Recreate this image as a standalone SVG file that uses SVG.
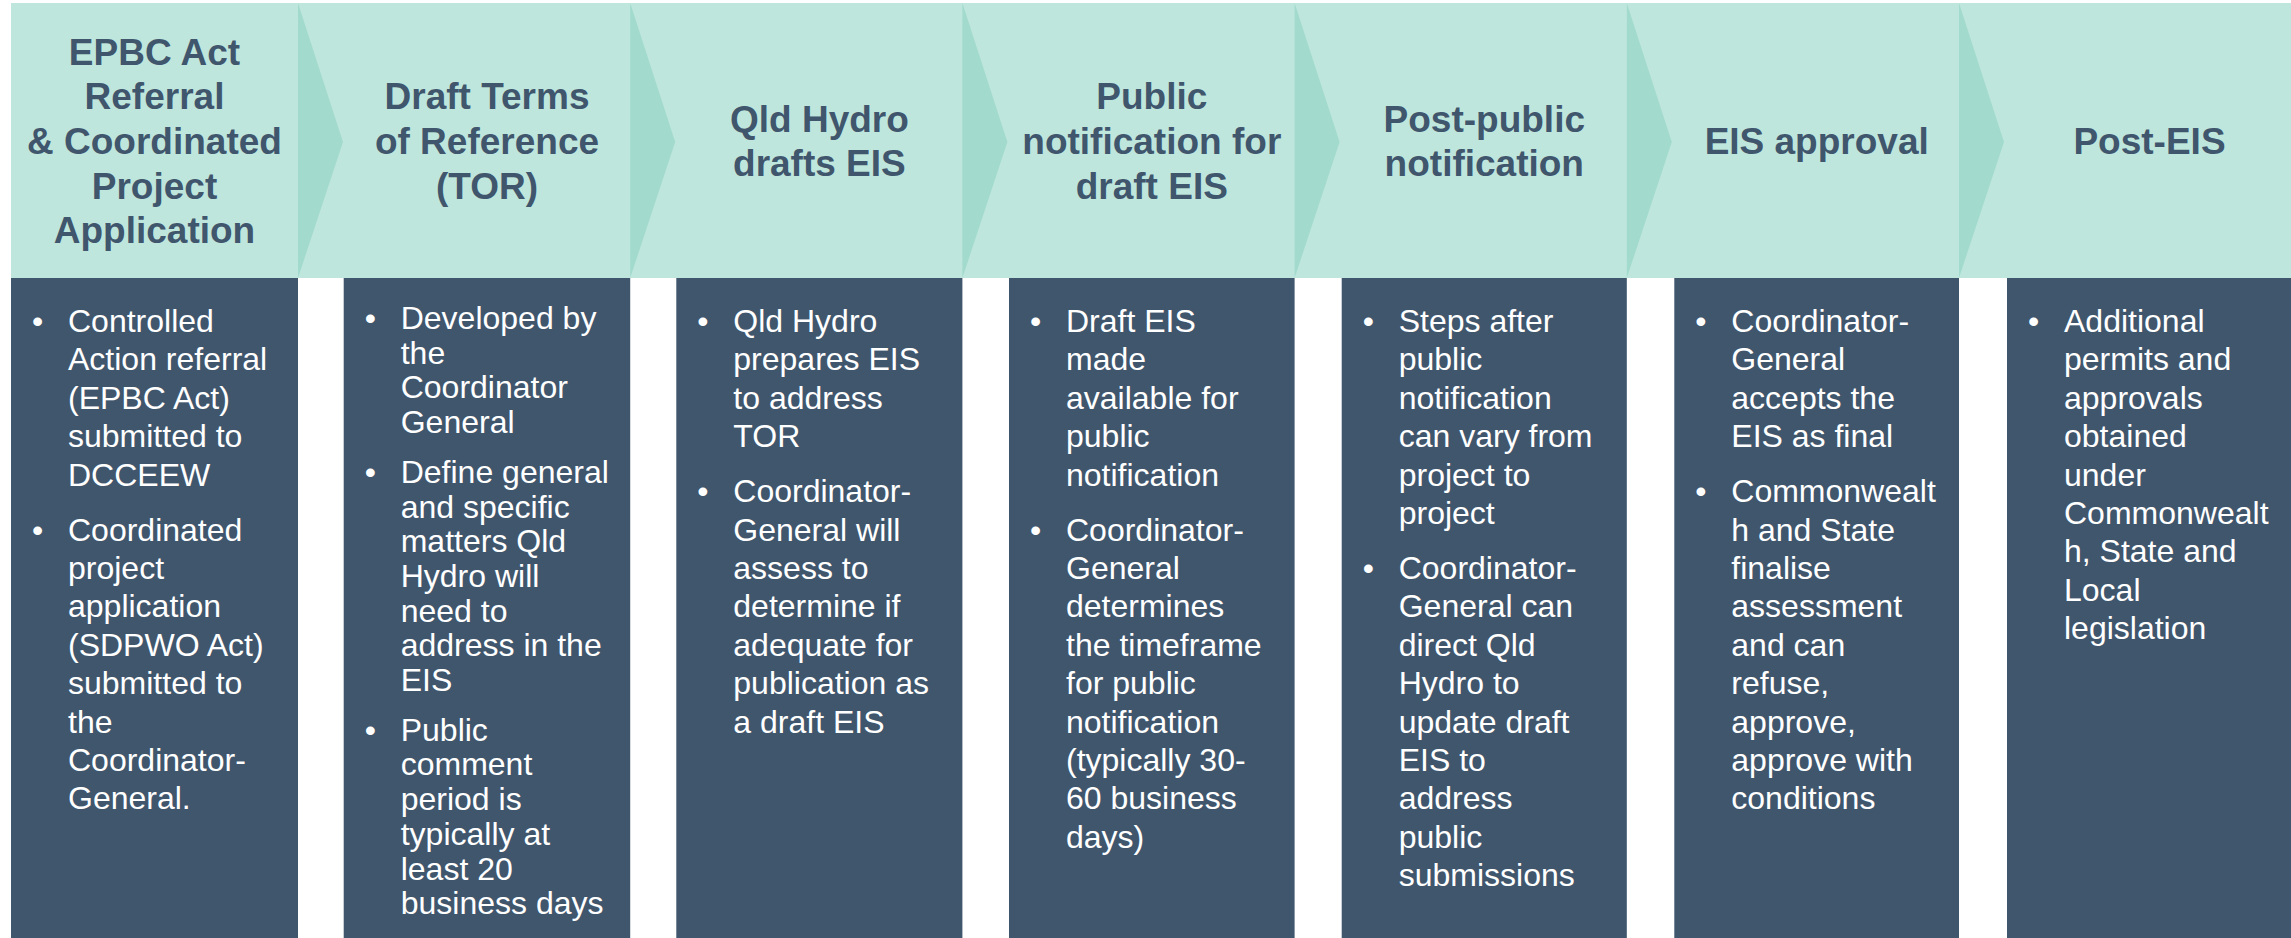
<svg xmlns="http://www.w3.org/2000/svg" width="2291" height="938" viewBox="0 0 2291 938">
<style>
.band{fill:#bfe6dd}
.tri{fill:#a2dbcd}
.box{fill:#3f566d}
.hd{font-family:"Liberation Sans",Arial,sans-serif;font-weight:bold;font-size:37px;fill:#3f566d;text-anchor:middle}
.bd{font-family:"Liberation Sans",Arial,sans-serif;font-size:32px;fill:#ffffff}
</style>
<rect width="2291" height="938" fill="#ffffff"/>
<rect class="band" x="11" y="3" width="2280" height="275"/>
<g id="connectors">
<polygon class="tri" points="298,3 343,142 298,278"/>
<polygon class="tri" points="630.2,3 675.2,142 630.2,278"/>
<polygon class="tri" points="962.4,3 1007.4,142 962.4,278"/>
<polygon class="tri" points="1294.6,3 1339.6,142 1294.6,278"/>
<polygon class="tri" points="1626.8,3 1671.8,142 1626.8,278"/>
<polygon class="tri" points="1959,3 2004,142 1959,278"/>
</g>
<g id="step1">
<text class="hd"><tspan x="154.5" y="64.8">EPBC Act</tspan><tspan x="154.5" y="109.4">Referral</tspan><tspan x="154.5" y="154">&amp; Coordinated</tspan><tspan x="154.5" y="198.6">Project</tspan><tspan x="154.5" y="243.2">Application</tspan></text>
<rect class="box" x="11" y="278" width="287" height="660"/>
<text class="bd"><tspan x="32" y="332">•</tspan><tspan x="32" y="540.6">•</tspan></text>
<text class="bd"><tspan x="68" y="332">Controlled</tspan><tspan x="68" y="370.4">Action referral</tspan><tspan x="68" y="408.8">(EPBC Act)</tspan><tspan x="68" y="447.2">submitted to</tspan><tspan x="68" y="485.6">DCCEEW</tspan><tspan x="68" y="540.6">Coordinated</tspan><tspan x="68" y="579">project</tspan><tspan x="68" y="617.4">application</tspan><tspan x="68" y="655.8">(SDPWO Act)</tspan><tspan x="68" y="694.2">submitted to</tspan><tspan x="68" y="732.6">the</tspan><tspan x="68" y="771">Coordinator-</tspan><tspan x="68" y="809.4">General.</tspan></text>
</g>
<g id="step2">
<text class="hd"><tspan x="487" y="109.4">Draft Terms</tspan><tspan x="487" y="154">of Reference</tspan><tspan x="487" y="198.6">(TOR)</tspan></text>
<rect class="box" x="343.7" y="278" width="286.5" height="660"/>
<text class="bd"><tspan x="364.7" y="329">•</tspan><tspan x="364.7" y="482.8">•</tspan><tspan x="364.7" y="740.7">•</tspan></text>
<text class="bd"><tspan x="400.7" y="329">Developed by</tspan><tspan x="400.7" y="363.7">the</tspan><tspan x="400.7" y="398.4">Coordinator</tspan><tspan x="400.7" y="433.1">General</tspan><tspan x="400.7" y="482.8">Define general</tspan><tspan x="400.7" y="517.5">and specific</tspan><tspan x="400.7" y="552.2">matters Qld</tspan><tspan x="400.7" y="586.9">Hydro will</tspan><tspan x="400.7" y="621.6">need to</tspan><tspan x="400.7" y="656.3">address in the</tspan><tspan x="400.7" y="691">EIS</tspan><tspan x="400.7" y="740.7">Public</tspan><tspan x="400.7" y="775.4">comment</tspan><tspan x="400.7" y="810.1">period is</tspan><tspan x="400.7" y="844.8">typically at</tspan><tspan x="400.7" y="879.5">least 20</tspan><tspan x="400.7" y="914.2">business days</tspan></text>
</g>
<g id="step3">
<text class="hd"><tspan x="819.4" y="131.7">Qld Hydro</tspan><tspan x="819.4" y="176.3">drafts EIS</tspan></text>
<rect class="box" x="676.3" y="278" width="286.1" height="660"/>
<text class="bd"><tspan x="697.3" y="332">•</tspan><tspan x="697.3" y="502.2">•</tspan></text>
<text class="bd"><tspan x="733.3" y="332">Qld Hydro</tspan><tspan x="733.3" y="370.4">prepares EIS</tspan><tspan x="733.3" y="408.8">to address</tspan><tspan x="733.3" y="447.2">TOR</tspan><tspan x="733.3" y="502.2">Coordinator-</tspan><tspan x="733.3" y="540.6">General will</tspan><tspan x="733.3" y="579">assess to</tspan><tspan x="733.3" y="617.4">determine if</tspan><tspan x="733.3" y="655.8">adequate for</tspan><tspan x="733.3" y="694.2">publication as</tspan><tspan x="733.3" y="732.6">a draft EIS</tspan></text>
</g>
<g id="step4">
<text class="hd"><tspan x="1151.8" y="109.4">Public</tspan><tspan x="1151.8" y="154">notification for</tspan><tspan x="1151.8" y="198.6">draft EIS</tspan></text>
<rect class="box" x="1009" y="278" width="285.6" height="660"/>
<text class="bd"><tspan x="1030" y="332">•</tspan><tspan x="1030" y="540.6">•</tspan></text>
<text class="bd"><tspan x="1066" y="332">Draft EIS</tspan><tspan x="1066" y="370.4">made</tspan><tspan x="1066" y="408.8">available for</tspan><tspan x="1066" y="447.2">public</tspan><tspan x="1066" y="485.6">notification</tspan><tspan x="1066" y="540.6">Coordinator-</tspan><tspan x="1066" y="579">General</tspan><tspan x="1066" y="617.4">determines</tspan><tspan x="1066" y="655.8">the timeframe</tspan><tspan x="1066" y="694.2">for public</tspan><tspan x="1066" y="732.6">notification</tspan><tspan x="1066" y="771">(typically 30-</tspan><tspan x="1066" y="809.4">60 business</tspan><tspan x="1066" y="847.8">days)</tspan></text>
</g>
<g id="step5">
<text class="hd"><tspan x="1484.3" y="131.7">Post-public</tspan><tspan x="1484.3" y="176.3">notification</tspan></text>
<rect class="box" x="1341.7" y="278" width="285.1" height="660"/>
<text class="bd"><tspan x="1362.7" y="332">•</tspan><tspan x="1362.7" y="579">•</tspan></text>
<text class="bd"><tspan x="1398.7" y="332">Steps after</tspan><tspan x="1398.7" y="370.4">public</tspan><tspan x="1398.7" y="408.8">notification</tspan><tspan x="1398.7" y="447.2">can vary from</tspan><tspan x="1398.7" y="485.6">project to</tspan><tspan x="1398.7" y="524">project</tspan><tspan x="1398.7" y="579">Coordinator-</tspan><tspan x="1398.7" y="617.4">General can</tspan><tspan x="1398.7" y="655.8">direct Qld</tspan><tspan x="1398.7" y="694.2">Hydro to</tspan><tspan x="1398.7" y="732.6">update draft</tspan><tspan x="1398.7" y="771">EIS to</tspan><tspan x="1398.7" y="809.4">address</tspan><tspan x="1398.7" y="847.8">public</tspan><tspan x="1398.7" y="886.2">submissions</tspan></text>
</g>
<g id="step6">
<text class="hd"><tspan x="1816.7" y="154">EIS approval</tspan></text>
<rect class="box" x="1674.3" y="278" width="284.7" height="660"/>
<text class="bd"><tspan x="1695.3" y="332">•</tspan><tspan x="1695.3" y="502.2">•</tspan></text>
<text class="bd"><tspan x="1731.3" y="332">Coordinator-</tspan><tspan x="1731.3" y="370.4">General</tspan><tspan x="1731.3" y="408.8">accepts the</tspan><tspan x="1731.3" y="447.2">EIS as final</tspan><tspan x="1731.3" y="502.2">Commonwealt</tspan><tspan x="1731.3" y="540.6">h and State</tspan><tspan x="1731.3" y="579">finalise</tspan><tspan x="1731.3" y="617.4">assessment</tspan><tspan x="1731.3" y="655.8">and can</tspan><tspan x="1731.3" y="694.2">refuse,</tspan><tspan x="1731.3" y="732.6">approve,</tspan><tspan x="1731.3" y="771">approve with</tspan><tspan x="1731.3" y="809.4">conditions</tspan></text>
</g>
<g id="step7">
<text class="hd"><tspan x="2149.5" y="154">Post-EIS</tspan></text>
<rect class="box" x="2007" y="278" width="284" height="660"/>
<text class="bd"><tspan x="2028" y="332">•</tspan></text>
<text class="bd"><tspan x="2064" y="332">Additional</tspan><tspan x="2064" y="370.4">permits and</tspan><tspan x="2064" y="408.8">approvals</tspan><tspan x="2064" y="447.2">obtained</tspan><tspan x="2064" y="485.6">under</tspan><tspan x="2064" y="524">Commonwealt</tspan><tspan x="2064" y="562.4">h, State and</tspan><tspan x="2064" y="600.8">Local</tspan><tspan x="2064" y="639.2">legislation</tspan></text>
</g>
</svg>
